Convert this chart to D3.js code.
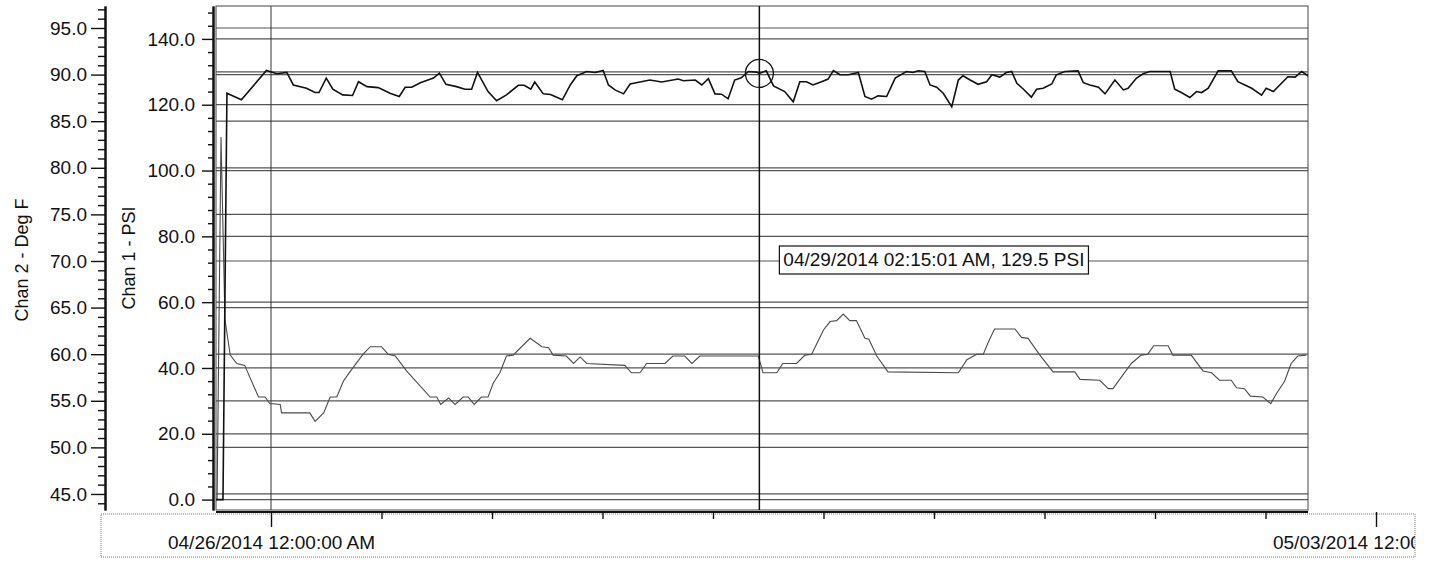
<!DOCTYPE html>
<html>
<head>
<meta charset="utf-8">
<script src="https://cdn.jsdelivr.net/npm/d3@7"></script>
<style>
    body { margin: 0; background: #fff; }
    text { font-family: "Liberation Sans", Arial, sans-serif; fill: #111; }
</style>
</head>
<body>
<div id="chart"></div>
<script>

// logger window shown on the x axis
const startTime = new Date(2014, 3, 26, 0, 0, 0);
const endTime = new Date(2014, 4, 3, 0, 0, 0);

// Chan 1 - PSI, hours after 04/26/2014 12:00 AM
const psiHours = [
    -8.4, -7.3, -6.7, -4.5, -0.7, 0.9, 2.4, 3.4, 5.4, 6.7,
    7.3, 8.4, 9.4, 10.9, 12.4, 13.3, 14.6, 16.3, 18.1, 19.5,
    20.4, 21.4, 22.7, 24.7, 25.6, 26.6, 28.2, 29.5, 30.5, 31.4,
    33.0, 34.3, 35.8, 37.6, 38.5, 39.5, 40.1, 41.4, 42.5, 44.3,
    45.5, 46.5, 48.0, 49.3, 50.5, 51.3, 52.3, 53.6, 54.6, 57.6,
    59.4, 61.9, 62.7, 64.5, 65.5, 66.5, 67.5, 68.5, 69.5, 70.5,
    71.5, 72.6, 73.8, 74.25, 75.3, 76.4, 78.1, 79.4, 80.4, 81.4,
    82.4, 83.7, 84.7, 85.5, 86.5, 87.8, 89.3, 90.3, 91.3, 92.3,
    93.6, 94.9, 96.6, 97.6, 98.4, 99.4, 100.2, 101.2, 102.2, 103.5,
    104.5, 105.2, 106.3, 107.5, 108.8, 109.6, 110.8, 111.8, 112.6, 113.4,
    114.4, 115.6, 116.4, 117.4, 118.7, 119.4, 120.7, 122.7, 123.5, 124.5,
    125.8, 126.8, 128.3, 129.6, 130.3, 131.6, 132.6, 133.6, 136.7, 137.4,
    138.4, 139.7, 140.7, 141.5, 142.5, 144.0, 146.0, 147.0, 149.1, 150.6,
    151.3, 152.4, 154.6, 155.7, 156.7, 157.9
];
const psiValues = [
    0, 0, 123.5, 121.5, 130.4, 129.4, 129.8, 126.0, 125.0, 123.7,
    123.7, 128.1, 124.7, 123.0, 122.8, 127.0, 125.5, 125.2, 123.5, 122.5,
    125.3, 125.3, 126.7, 128.1, 129.6, 126.2, 125.5, 124.7, 124.7, 129.8,
    124.0, 121.2, 123.0, 125.9, 125.9, 124.7, 126.9, 123.3, 123.1, 121.5,
    126.0, 128.8, 130.1, 129.8, 130.4, 126.0, 124.5, 123.3, 126.3, 127.5,
    126.9, 127.8, 127.3, 127.5, 126.0, 127.9, 123.3, 123.2, 121.8, 127.5,
    128.2, 130.1, 129.9, 129.5, 130.3, 125.7, 124.0, 120.9, 127.0, 127.0,
    126.0, 127.0, 127.8, 130.4, 129.1, 129.1, 129.8, 122.5, 121.7, 122.7,
    122.5, 128.1, 130.1, 129.8, 130.3, 130.1, 126.0, 125.3, 123.5, 119.4,
    127.5, 128.8, 127.5, 126.2, 127.0, 129.1, 128.4, 129.8, 130.1, 126.5,
    124.7, 122.3, 124.7, 125.0, 126.3, 129.1, 130.1, 130.3, 126.7, 126.0,
    125.3, 123.3, 127.5, 124.5, 125.0, 128.1, 129.4, 130.1, 130.1, 124.7,
    123.7, 122.2, 124.0, 123.7, 125.0, 130.3, 130.3, 127.0, 125.0, 122.9,
    125.0, 124.0, 128.5, 128.4, 130.1, 128.5
];

// Chan 2 - Deg F, hours after 04/26/2014 12:00 AM
const degHours = [
    -8.2, -7.6, -7.0, -6.2, -5.2, -4.0, -1.9, -0.9, -0.2, 1.4,
    1.6, 5.9, 6.7, 8.0, 9.0, 10.0, 11.0, 12.0, 14.0, 15.1,
    16.8, 17.8, 18.9, 20.6, 24.2, 25.2, 25.8, 27.0, 28.0, 29.2,
    30.0, 30.9, 32.0, 33.0, 33.8, 34.8, 35.8, 36.8, 39.4, 41.2,
    42.2, 42.9, 44.9, 46.0, 47.0, 48.0, 53.8, 54.8, 56.1, 57.1,
    59.9, 61.1, 62.9, 64.0, 65.2, 74.1, 74.8, 76.9, 77.8, 79.9,
    81.2, 82.2, 82.9, 84.0, 85.0, 86.0, 87.0, 88.0, 89.0, 90.3,
    90.9, 92.1, 93.8, 104.5, 105.8, 107.3, 108.3, 109.0, 110.0, 113.1,
    114.1, 115.1, 116.9, 118.9, 122.2, 123.0, 126.0, 127.3, 128.0, 130.8,
    132.3, 133.3, 134.2, 136.4, 137.1, 139.9, 141.7, 143.0, 144.2, 146.0,
    146.8, 148.0, 148.9, 150.8, 152.0, 152.9, 154.1, 155.1, 156.1, 157.4
];
const degValues = [
    44.4, 83.3, 63.7, 59.9, 59.0, 58.8, 55.4, 55.4, 54.7, 54.6,
    53.7, 53.7, 52.8, 53.7, 55.4, 55.4, 57.1, 58.1, 60.0, 60.8,
    60.8, 60.0, 59.8, 58.2, 55.4, 55.4, 54.6, 55.3, 54.6, 55.4,
    55.4, 54.6, 55.4, 55.4, 56.9, 58.0, 59.8, 59.9, 61.7, 60.8,
    60.7, 59.9, 59.8, 59.0, 59.7, 59.0, 58.8, 58.0, 58.0, 59.0,
    59.0, 59.8, 59.8, 59.0, 59.8, 59.8, 58.0, 58.0, 59.0, 59.0,
    59.9, 60.0, 61.0, 62.6, 63.5, 63.6, 64.3, 63.6, 63.6, 61.7,
    61.6, 59.8, 58.1, 58.0, 59.4, 60.0, 60.0, 61.2, 62.7, 62.7,
    61.8, 61.7, 59.9, 58.1, 58.1, 57.3, 57.2, 56.3, 56.3, 59.0,
    59.9, 60.0, 60.9, 60.9, 59.9, 59.9, 58.2, 58.0, 57.2, 57.2,
    56.4, 56.3, 55.5, 55.4, 54.7, 55.8, 57.1, 59.0, 59.8, 59.9
];

const degTicks = [45, 50, 55, 60, 65, 70, 75, 80, 85, 90, 95];
const psiTicks = [0, 20, 40, 60, 80, 100, 120, 140];
const psiLimit = 130;
const dateLabels = ["04/26/2014 12:00:00 AM", "05/03/2014 12:00:00 AM"];

// cursor read-out
const cursorTime = new Date(2014, 3, 29, 2, 15, 1);
const cursorValue = 129.5;
const cursorLabel = "04/29/2014 02:15:01 AM, 129.5 PSI";


class LoggerVis {

    constructor(parentElement) {
        this.parentElement = parentElement;
        this.initVis();
    }

    initVis() {
        let vis = this;

        vis.width = 1437;
        vis.height = 562;
        vis.plot = {left: 216, right: 1308, top: 6, bottom: 510};

        vis.svg = d3.select("#" + vis.parentElement).append("svg")
            .attr("width", vis.width)
            .attr("height", vis.height);

        // scales (the time axis runs on past the plot's right edge)
        vis.x = d3.scaleTime().domain([startTime, endTime]).range([271, 1376]);
        vis.yDeg = d3.scaleLinear().domain([43.28, 97.36]).range([vis.plot.bottom, vis.plot.top]);
        vis.yPsi = d3.scaleLinear().domain([-3.16, 150]).range([vis.plot.bottom, vis.plot.top]);

        vis.svg.append("clipPath").attr("id", "plotClip")
            .append("rect")
            .attr("x", vis.plot.left)
            .attr("y", vis.plot.top)
            .attr("width", vis.plot.right - vis.plot.left)
            .attr("height", vis.plot.bottom - vis.plot.top);

        // the time labels are cut by the dotted box, as in the logger software
        vis.svg.append("clipPath").attr("id", "xClip")
            .append("rect")
            .attr("x", 101).attr("y", 505)
            .attr("width", 1314).attr("height", 57);

        vis.wrangleData();
    }

    wrangleData() {
        let vis = this;

        let toDate = h => new Date(+startTime + h * 3600 * 1000);

        vis.psiData = psiHours.map((h, i) => ({time: toDate(h), value: psiValues[i]}));
        vis.degData = degHours.map((h, i) => ({time: toDate(h), value: degValues[i]}));

        vis.updateVis();
    }

    updateVis() {
        let vis = this;
        let p = vis.plot;

        // horizontal grid lines for both axes + 130 psi line
        let grid = vis.svg.append("g").attr("class", "grid");
        let gridYs = degTicks.map(d => vis.yDeg(d))
            .concat(psiTicks.map(d => vis.yPsi(d)))
            .concat([vis.yPsi(psiLimit)]);

        grid.selectAll("line")
            .data(gridYs)
            .enter().append("line")
            .attr("x1", p.left).attr("x2", p.right)
            .attr("y1", d => d).attr("y2", d => d)
            .attr("stroke", "#555")
            .attr("stroke-width", 1.2);

        // vertical line at each labelled date
        grid.selectAll(".vgrid")
            .data([startTime, endTime])
            .enter().append("line")
            .attr("class", "vgrid")
            .attr("clip-path", "url(#plotClip)")
            .attr("x1", d => vis.x(d)).attr("x2", d => vis.x(d))
            .attr("y1", p.top).attr("y2", p.bottom)
            .attr("stroke", "#333")
            .attr("stroke-width", 1);

        // plot frame
        vis.svg.append("rect")
            .attr("x", p.left).attr("y", p.top)
            .attr("width", p.right - p.left)
            .attr("height", p.bottom - p.top)
            .attr("fill", "none")
            .attr("stroke", "#444")
            .attr("stroke-width", 1);

        // series
        let lines = vis.svg.append("g").attr("clip-path", "url(#plotClip)");

        let degLine = d3.line().x(d => vis.x(d.time)).y(d => vis.yDeg(d.value));
        let psiLine = d3.line().x(d => vis.x(d.time)).y(d => vis.yPsi(d.value));

        lines.append("path")
            .datum(vis.degData)
            .attr("d", degLine)
            .attr("fill", "none")
            .attr("stroke", "#4a4a4a")
            .attr("stroke-width", 1.1);

        lines.append("path")
            .datum(vis.psiData)
            .attr("d", psiLine)
            .attr("fill", "none")
            .attr("stroke", "#111")
            .attr("stroke-width", 1.6);

        // cursor
        let cx = vis.x(cursorTime);
        let cy = vis.yPsi(cursorValue);

        vis.svg.append("line")
            .attr("x1", cx).attr("x2", cx)
            .attr("y1", p.top).attr("y2", p.bottom)
            .attr("stroke", "#111")
            .attr("stroke-width", 1.5);

        vis.svg.append("circle")
            .attr("cx", cx).attr("cy", cy)
            .attr("r", 14)
            .attr("fill", "none")
            .attr("stroke", "#111")
            .attr("stroke-width", 1.3);

        let tip = vis.svg.append("g").attr("transform", `translate(${cx + 20}, 246)`);
        let tipRect = tip.append("rect")
            .attr("fill", "#fff")
            .attr("stroke", "#111")
            .attr("stroke-width", 1.2);
        let tipText = tip.append("text")
            .attr("x", 4).attr("y", 20)
            .attr("font-size", "19px")
            .text(cursorLabel);
        let bb = tipText.node().getBBox();
        tipRect.attr("width", bb.width + 8).attr("height", 28);

        // left axes
        let degAxis = vis.svg.append("g")
            .attr("transform", "translate(105, 0)")
            .call(d3.axisLeft(vis.yDeg).tickValues(degTicks).tickSize(14).tickSizeOuter(0)
                .tickPadding(4).tickFormat(d3.format(".1f")));
        vis.svg.append("g")
            .attr("transform", "translate(105, 0)")
            .call(d3.axisLeft(vis.yDeg).tickValues(d3.range(44, 98).filter(d => d % 5 !== 0))
                .tickSize(7).tickSizeOuter(0).tickFormat(""));

        let psiAxis = vis.svg.append("g")
            .attr("transform", "translate(213, 0)")
            .call(d3.axisLeft(vis.yPsi).tickValues(psiTicks).tickSize(11).tickSizeOuter(0)
                .tickPadding(7).tickFormat(d3.format(".1f")));
        vis.svg.append("g")
            .attr("transform", "translate(213, 0)")
            .call(d3.axisLeft(vis.yPsi).tickValues(d3.range(0, 150, 4).filter(d => d % 20 !== 0))
                .tickSize(5).tickSizeOuter(0).tickFormat(""));

        vis.svg.selectAll(".domain").attr("stroke", "#111").attr("stroke-width", 2);
        vis.svg.selectAll(".tick line").attr("stroke", "#111").attr("stroke-width", 1.4);
        [degAxis, psiAxis].forEach(a => a.selectAll("text")
            .attr("font-size", "19px")
            .attr("font-family", "'Liberation Sans', Arial, sans-serif")
            .attr("fill", "#111"));

        // axis titles
        vis.svg.append("text")
            .attr("transform", "translate(28, 260) rotate(-90)")
            .attr("text-anchor", "middle")
            .attr("font-size", "18px")
            .text("Chan 2 - Deg F");

        vis.svg.append("text")
            .attr("transform", "translate(135, 258) rotate(-90)")
            .attr("text-anchor", "middle")
            .attr("font-size", "18px")
            .text("Chan 1 - PSI");

        // time axis
        vis.svg.append("rect")
            .attr("x", 101).attr("y", 514)
            .attr("width", 1314).attr("height", 43)
            .attr("fill", "none")
            .attr("stroke", "#777")
            .attr("stroke-dasharray", "1,1");

        vis.svg.append("line")
            .attr("x1", p.left).attr("x2", p.right)
            .attr("y1", 512).attr("y2", 512)
            .attr("stroke", "#111")
            .attr("stroke-width", 2);

        let span = endTime - startTime;
        let xTicks = d3.range(11).map(i => new Date(+startTime + i * span / 10));
        let isLabelled = (d, i) => i === 0 || i === xTicks.length - 1;

        let xAxis = vis.svg.append("g")
            .attr("clip-path", "url(#xClip)")
            .append("g")
            .attr("transform", "translate(0, 512)")
            .call(d3.axisBottom(vis.x).tickValues(xTicks).tickSize(7).tickSizeOuter(0)
                .tickFormat((d, i) => isLabelled(d, i) ? dateLabels[i === 0 ? 0 : 1] : ""));

        xAxis.select(".domain").remove();
        xAxis.selectAll(".tick line")
            .attr("stroke", "#111")
            .attr("stroke-width", 1.4)
            .attr("y2", (d, i) => isLabelled(d, i) ? 15 : 7);
        xAxis.selectAll(".tick text")
            .attr("y", 37)
            .attr("dy", 0)
            .attr("font-size", "19px")
            .attr("font-family", "'Liberation Sans', Arial, sans-serif")
            .attr("fill", "#111");
    }
}

new LoggerVis("chart");

</script>
</body>
</html>
